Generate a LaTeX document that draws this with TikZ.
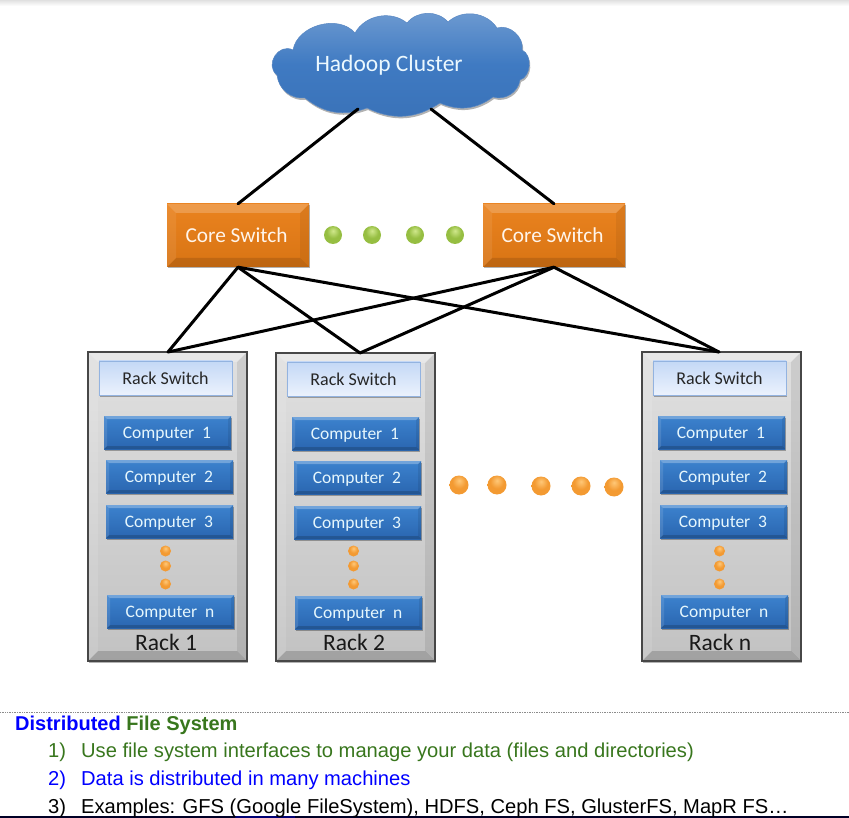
\documentclass[tikz,border=0pt]{standalone}
\usepackage{fontspec}
\setmainfont{Carlito}
\newfontfamily\arialfont{Liberation Sans}
\usetikzlibrary{calc,shadows}

\definecolor{clusterblue}{HTML}{3F7AC2}
\definecolor{clusterdark}{HTML}{3A72B8}
\definecolor{coreorange}{HTML}{EA831F}
\definecolor{coredark}{HTML}{D87414}
\definecolor{compblue}{HTML}{3C82CE}
\definecolor{compdark}{HTML}{2A66B0}
\definecolor{switchtop}{HTML}{C4D8F6}
\definecolor{switchlow}{HTML}{EBF2FD}
\definecolor{switchrim}{HTML}{93B3E0}
\definecolor{rackgray}{HTML}{D3D3D3}
\definecolor{notegreen}{HTML}{38761D}
\definecolor{noteblue}{HTML}{0000FF}
\definecolor{ballolight}{HTML}{FFC878}
\definecolor{ballomid}{HTML}{F39A32}
\definecolor{balloedge}{HTML}{D47A1E}
\definecolor{ballglight}{HTML}{D0E88C}
\definecolor{ballgmid}{HTML}{96BE42}
\definecolor{ballgedge}{HTML}{6E9A2C}

\pgfdeclareradialshading{orangeball}{\pgfpoint{0bp}{12bp}}{
  color(0bp)=(ballolight); color(18bp)=(ballomid); color(45bp)=(ballomid); color(70bp)=(balloedge)}
\pgfdeclareradialshading{greenball}{\pgfpoint{0bp}{12bp}}{
  color(0bp)=(ballglight); color(18bp)=(ballgmid); color(45bp)=(ballgmid); color(70bp)=(ballgedge)}

\tikzset{
  bevelface/.style 2 args={path picture={
    \path (path picture bounding box.north west) coordinate (nw)
          (path picture bounding box.north east) coordinate (ne)
          (path picture bounding box.south east) coordinate (se)
          (path picture bounding box.south west) coordinate (sw);
    \fill[white,opacity=#2] (nw) -- (ne) -- ($(ne)+(-#1pt,-#1pt)$) -- ($(nw)+(#1pt,-#1pt)$) -- cycle;
    \fill[black,opacity=#2*.6] (sw) -- (se) -- ($(se)+(-#1pt,#1pt)$) -- ($(sw)+(#1pt,#1pt)$) -- cycle;
    \fill[white,opacity=#2*.4] (nw) -- (sw) -- ($(sw)+(#1pt,#1pt)$) -- ($(nw)+(#1pt,-#1pt)$) -- cycle;
    \fill[black,opacity=#2*.3] (ne) -- (se) -- ($(se)+(-#1pt,#1pt)$) -- ($(ne)+(-#1pt,-#1pt)$) -- cycle;
  }},
  softshadow/.style={drop shadow={shadow xshift=1pt,shadow yshift=-1.5pt,opacity=.3,fill=black}},
  corebox/.style={rectangle,minimum width=142pt,minimum height=63pt,inner sep=0pt,
    top color=coreorange,bottom color=coredark,bevelface={9}{.2},softshadow,
    text=white!92!orange,font=\fontsize{21.3}{24}\selectfont},
  rackbox/.style={rectangle,draw=black!72,line width=1.4pt,minimum width=159pt,inner sep=0pt,
    top color=rackgray!70!white,bottom color=rackgray!92!black,bevelface={10}{.28},softshadow},
  switchbox/.style={rectangle,draw=switchrim,line width=.8pt,minimum width=133pt,minimum height=34pt,inner sep=0pt,
    top color=switchtop,bottom color=switchlow,softshadow,font=\fontsize{18}{20}\selectfont,text=black!85},
  compbox/.style={rectangle,minimum width=127pt,minimum height=33pt,inner sep=0pt,
    text height=14pt,text depth=2pt,
    top color=compblue,bottom color=compdark,bevelface={3}{.28},softshadow,
    text=white!90!cyan,font=\fontsize{17.5}{20}\selectfont},
  link/.style={line width=3pt,black,line cap=round},
  balldot/.style={circle,minimum size=#1,inner sep=0pt},
  notetext/.style={anchor=base west,inner sep=0pt,font=\arialfont\fontsize{20.15}{24}\selectfont}
}

\begin{document}
\begin{tikzpicture}[x=1pt,y=-1pt]
  \useasboundingbox (0,0) rectangle (849,818);

  % Page edges
  \shade[top color=black!12,bottom color=white] (0,0) rectangle (849,6);
  \draw [black!45,densely dotted,line width=.7pt] (0,712) -- (849,712);
  \fill [black!85!blue] (0,816) rectangle (849,818);
  \fill [blue!45!black] (235,816) rectangle (295,818);

  % Cloud
  \shade [top color=clusterblue!75!white,bottom color=clusterdark,middle color=clusterblue,draw=clusterdark!85!white,line width=.5pt,
    drop shadow={shadow xshift=1pt,shadow yshift=-2pt,opacity=.3,fill=black}]
    (277,75) to[bend left=85,looseness=1.4] (293,50)
    to[bend left=65] (355,33) to[bend left=50] (407,23) to[bend left=50] (448,22)
    to[bend left=50] (497,28) to[bend left=60] (522,50) to[bend left=70] (520,80)
    to[bend left=50] (493,97) to[bend left=30] (440,103) to[bend left=30] (367,108)
    to[bend left=30] (305,98) to[bend left=45] (277,75) -- cycle;
  \node (cluster) [text=white!92!cyan,font=\fontsize{23.5}{27}\selectfont] at (389,65.5) {Hadoop Cluster};
  \coordinate (clusterleft) at (358,109);
  \coordinate (clusterright) at (431,109);

  % Core switches
  \node (coreleft) [corebox] at (238,235.5) {\hspace{-3pt}Core Switch};
  \node (coreright) [corebox] at (554,235.5) {\hspace{-3pt}Core Switch};
  \foreach \dotx [count=\i] in {333,372,415,455}
    \node (greendot\i) [balldot=18pt,shading=greenball] at (\dotx,235) {};

  % Racks
  \foreach \name/\dx/\dy/\topx/\lab/\labx in {one/0/0/168/1/166, two/188/1/360/2/354, last/554/0/719/n/720} {
    \node (rack\name) [rackbox,minimum height={309pt-\dy pt}] at (167.5+\dx,506.5+\dy/2) {};
    \coordinate (top\name) at (\topx,352+\dy);
    \node (switch\name) [switchbox] at (165.5+\dx,378+\dy) {Rack Switch};
    \node (compa\name) [compbox] at (167.5+\dx,432.5+\dy) {\hspace{-1pt}Computer\ \ 1};
    \node (compb\name) [compbox] at (169.5+\dx,476.5+\dy) {\hspace{-1pt}Computer\ \ 2};
    \node (compc\name) [compbox] at (169.5+\dx,521.5+\dy) {\hspace{-1pt}Computer\ \ 3};
    \node (compn\name) [compbox] at (170.5+\dx,611.5+\dy) {\hspace{-1pt}Computer\ \ n};
    \foreach \doty [count=\j] in {551,566,584}
      \node (dot\name\j) [balldot=11pt,shading=orangeball] at (165.5+\dx,\doty) {};
    \node (label\name) [font=\fontsize{23.5}{25}\selectfont,text=black!90] at (\labx,642) {Rack \lab};
  }
  \foreach \dotx/\doty [count=\i] in {459/485,497/485,541/486,581/486,614/487}
    \node (orangedot\i) [balldot=19pt,shading=orangeball] at (\dotx,\doty) {};

  % Links
  \draw [link] (clusterleft) -- (coreleft.north);
  \draw [link] (clusterright) -- (coreright.north);
  \foreach \name in {one,two,last} {
    \draw [link] (coreleft.south) -- (top\name);
    \draw [link] (coreright.south) -- (top\name);
  }

  % Notes
  \node (title) [notetext,font=\arialfont\bfseries\fontsize{20}{24}\selectfont,text=noteblue] at (15,730)
    {Distributed \textcolor{notegreen}{File System}};
  \node (numa) [notetext,text=notegreen] at (48,757) {1)};
  \node (itema) [notetext,text=notegreen] at (81,757) {Use file system interfaces to manage your data (files and directories)};
  \node (numb) [notetext,text=noteblue] at (48,785) {2)};
  \node (itemb) [notetext,text=noteblue] at (81,785) {Data is distributed in many machines};
  \node (numc) [notetext,text=black] at (48,813) {3)};
  \node (itemc) [notetext,text=black] at (81,813) {Examples: GFS (Google FileSystem), HDFS, Ceph FS, GlusterFS, MapR FS\dots};
\end{tikzpicture}
\end{document}
